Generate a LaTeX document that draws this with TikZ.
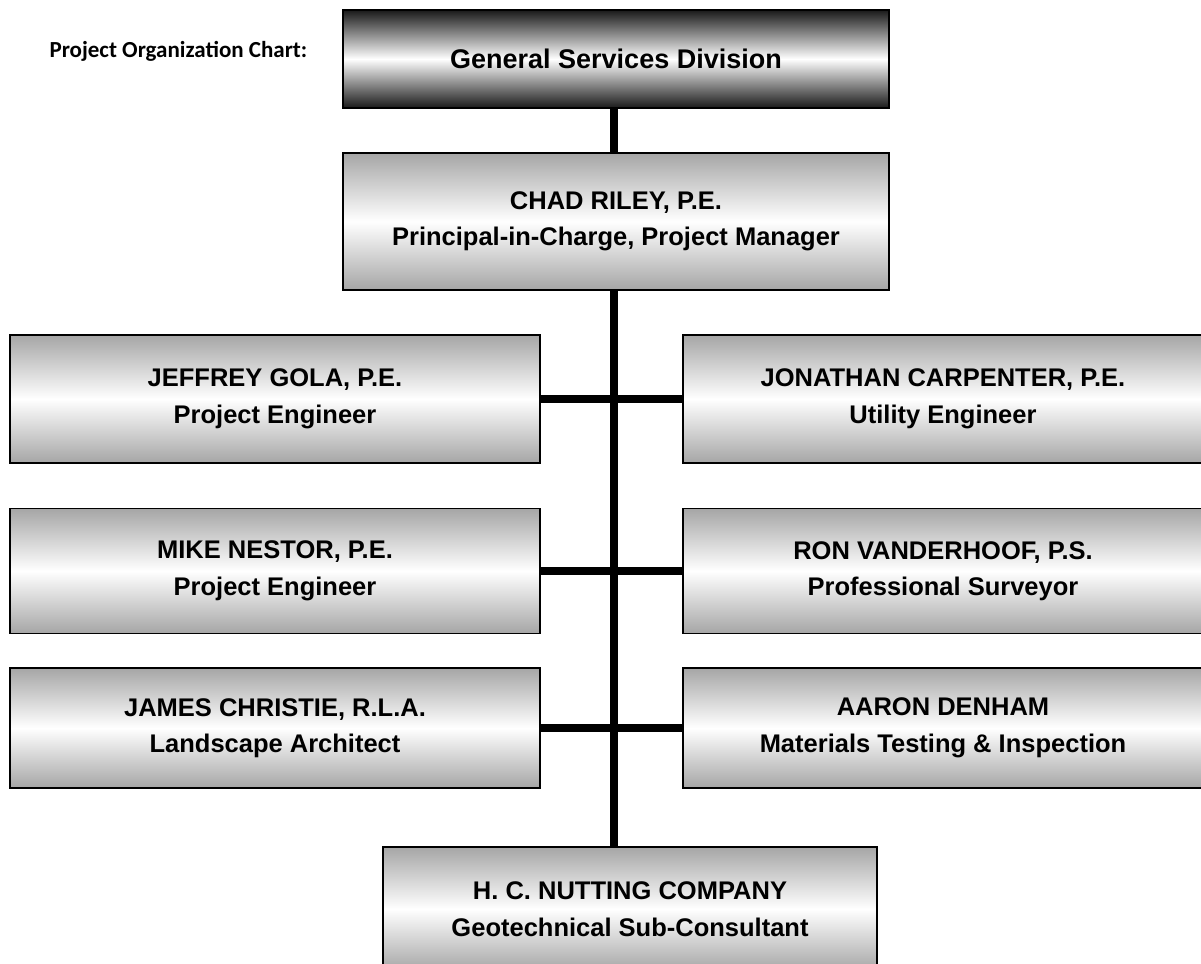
\documentclass[tikz,border=0pt]{standalone}
\usepackage{fontspec}
\setmainfont{Liberation Sans}
\newfontfamily\calfont{Carlito}
\begin{document}
\begin{tikzpicture}[x=1pt,y=-1pt,
  box/.style={rectangle, draw=black, line width=1.5pt, top color=gray!70, bottom color=gray!70, middle color=white, align=center, font=\fontsize{25.5}{36.5}\selectfont\bfseries, inner sep=0pt},
  topbox/.style={box, top color=black!90, bottom color=black!90, middle color=white, font=\fontsize{27}{32}\selectfont\bfseries},
  link/.style={line width=8pt, line cap=butt}]
\useasboundingbox (0,0) rectangle (1201,963);
\node[font=\calfont\fontsize{23}{26}\selectfont\bfseries, anchor=west] (title) at (46,51) {Project Organization Chart:};
\node[topbox, minimum width=546, minimum height=98] (gsd) at (616,59) {General Services Division};
\node[box, minimum width=546, minimum height=137] (chad) at (616,221.5) {CHAD RILEY, P.E.\\Principal-in-Charge, Project Manager};
\node[box, minimum width=530, minimum height=128] (jeff) at (275,399) {JEFFREY GOLA, P.E.\\Project Engineer};
\node[box, minimum width=520, minimum height=128] (jon) at (943,399) {JONATHAN CARPENTER, P.E.\\Utility Engineer};
\node[box, minimum width=530, minimum height=125] (mike) at (275,571) {MIKE NESTOR, P.E.\\Project Engineer};
\node[box, minimum width=520, minimum height=125] (ron) at (943,571) {RON VANDERHOOF, P.S.\\Professional Surveyor};
\node[box, minimum width=530, minimum height=120] (james) at (275,728) {JAMES CHRISTIE, R.L.A.\\Landscape Architect};
\node[box, minimum width=520, minimum height=120] (aaron) at (943,728) {AARON DENHAM\\Materials Testing \& Inspection};
\node[box, minimum width=494, minimum height=124] (hc) at (630,909) {H. C. NUTTING COMPANY\\Geotechnical Sub-Consultant};
\coordinate (spinetop) at (614,0);
\draw[link] (gsd.south -| spinetop) -- (chad.north -| spinetop);
\draw[link] (chad.south -| spinetop) -- (hc.north -| spinetop);
\draw[link] (jeff.east) -- (jon.west);
\draw[link] (mike.east) -- (ron.west);
\draw[link] (james.east) -- (aaron.west);
\end{tikzpicture}
\end{document}
